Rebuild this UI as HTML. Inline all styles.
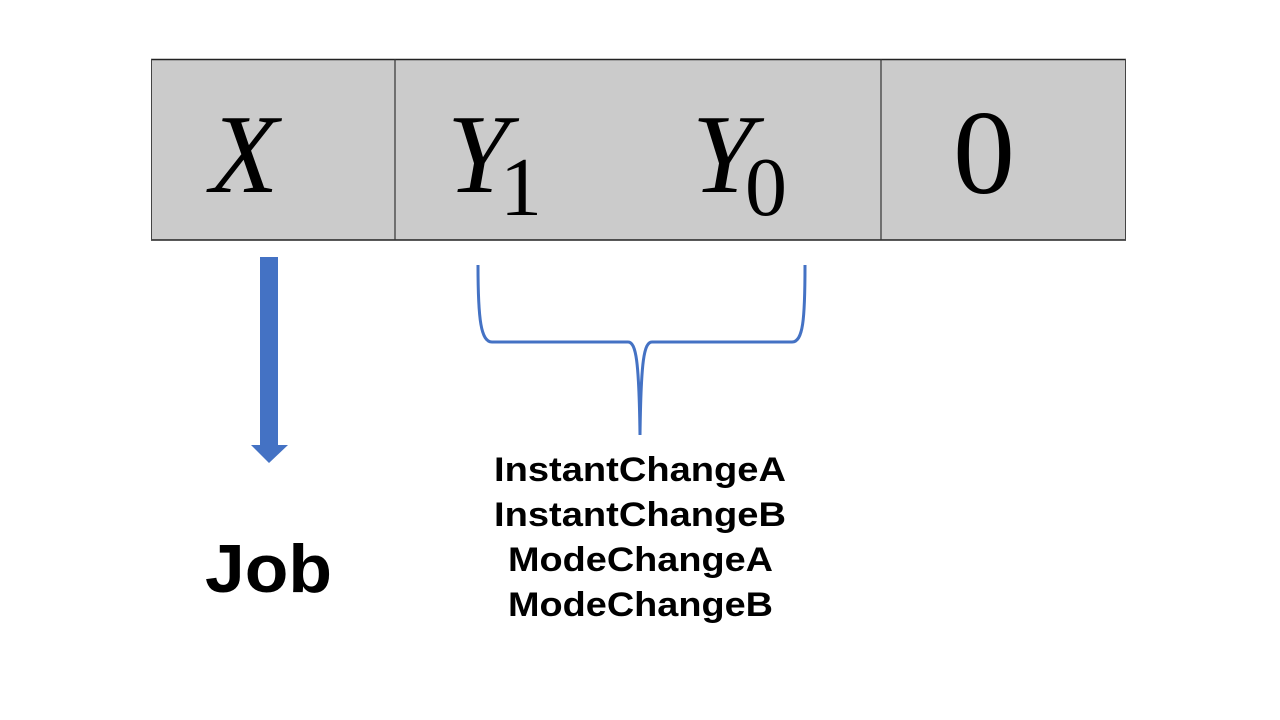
<!DOCTYPE html>
<html><head><meta charset="utf-8"><style>
html,body{margin:0;padding:0;background:#fff;width:1280px;height:720px;overflow:hidden}
svg{display:block}
.m{font-family:"Liberation Serif",serif;font-style:italic;font-size:112px;fill:#000}
.n{font-family:"Liberation Serif",serif;font-size:84px;fill:#000}
.lbl{font-family:"Liberation Sans","Noto Sans CJK JP",sans-serif;font-weight:bold;font-size:34px;fill:#000}
</style></head><body>
<svg width="1280" height="720" viewBox="0 0 1280 720">
<g>
<rect x="151" y="59.5" width="975" height="181" fill="#cbcbcb"/>
<line x1="151" y1="59.5" x2="1126" y2="59.5" stroke="#222" stroke-width="1.5"/>
<line x1="151" y1="240" x2="1126" y2="240" stroke="#222" stroke-width="1.5"/>
<line x1="151.5" y1="59" x2="151.5" y2="240" stroke="#444" stroke-width="1"/>
<line x1="1125.5" y1="59" x2="1125.5" y2="240" stroke="#444" stroke-width="1"/>
<line x1="395" y1="59" x2="395" y2="240" stroke="#333" stroke-width="1.2"/>
<line x1="881" y1="59" x2="881" y2="240" stroke="#333" stroke-width="1.2"/>
</g>
<text x="210" y="192" class="m">X</text>
<text x="447" y="192" class="m">Y</text>
<text x="500" y="215" class="n">1</text>
<text x="692" y="192" class="m">Y</text>
<text x="745" y="215" class="n">0</text>
<text x="953" y="193" class="n" style="font-size:120px" textLength="62" lengthAdjust="spacingAndGlyphs">0</text>
<path d="M260 257 H278 V445 H288 L269 463 L251 445 H260 Z" fill="#4472c4"/>
<text x="205" y="592" class="lbl" style="font-size:68px" textLength="127" lengthAdjust="spacingAndGlyphs">Job</text>
<path d="M478 265 C478 320 481 342 492 342 H628 C636 342 639 360 640 435 C641 360 644 342 652 342 H792 C803 342 805 320 805 265" fill="none" stroke="#4472c4" stroke-width="3"/>
<g>
<text x="494" y="481" class="lbl" textLength="292" lengthAdjust="spacingAndGlyphs">InstantChangeA</text>
<text x="494" y="526" class="lbl" textLength="292" lengthAdjust="spacingAndGlyphs">InstantChangeB</text>
<text x="508" y="571" class="lbl" textLength="265" lengthAdjust="spacingAndGlyphs">ModeChangeA</text>
<text x="508" y="616" class="lbl" textLength="265" lengthAdjust="spacingAndGlyphs">ModeChangeB</text>
</g>
</svg>
</body></html>
